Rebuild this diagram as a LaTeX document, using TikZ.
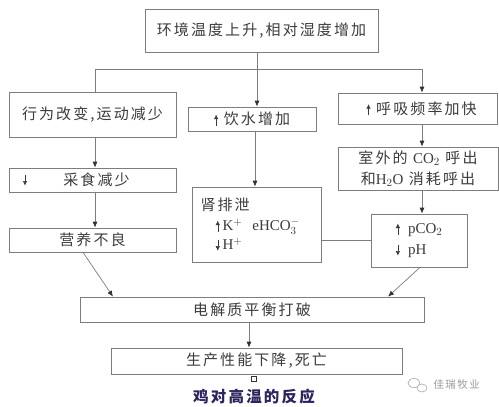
\documentclass[tikz,border=0pt]{standalone}
\usepackage{fontspec}
\setmainfont{Liberation Serif}
\newfontfamily\cjk[LetterSpace=14]{Noto Sans CJK SC}
\usetikzlibrary{arrows.meta,shadows}

\definecolor{linegray}{RGB}{125,125,125}
\definecolor{textgray}{RGB}{60,60,60}
\definecolor{titleblue}{RGB}{45,35,95}

\newcommand\uparr{\tikz[baseline=0pt]\draw[line width=0.5pt,-{Latex[length=4.5pt,width=4.5pt]}] (0pt,-1pt) -- (0pt,10pt);}
\newcommand\dnarr{\tikz[baseline=0pt]\draw[line width=0.5pt,-{Latex[length=4.5pt,width=4.5pt]}] (0pt,10pt) -- (0pt,-1pt);}

\tikzset{
  box/.style={draw=linegray, line width=0.7pt, fill=white, text=textgray,
    drop shadow={shadow xshift=0.6pt, shadow yshift=-1.2pt, fill=black!65, opacity=1},
    font=\cjk\fontsize{15}{21}\selectfont, inner sep=0pt},
  link/.style={draw=linegray, line width=0.7pt},
  flow/.style={link, -{Latex[length=6pt,width=5pt,color=black!80]}}
}

\begin{document}
\begin{tikzpicture}[x=1pt,y=-1pt]
  \useasboundingbox (0,0) rectangle (499,407);

  % boxes
  \node[box, minimum width=233pt, minimum height=43pt] (top) at (261.5,30.5) {环境温度上升,相对湿度增加};
  \node[box, minimum width=167pt, minimum height=45pt] (behav) at (92.5,114.5) {行为改变,运动减少};
  \node[box, minimum width=128pt, minimum height=24pt] (water) at (252,119) {\uparr\ 饮水增加};
  \node[box, minimum width=159pt, minimum height=31pt] (breath) at (417.5,108.5) {\hspace{8pt}\uparr\ 呼吸频率加快};
  \node[box, minimum width=167pt, minimum height=24pt] (feed) at (92.5,180) {\hspace{8pt}采食减少};
  \node[text=textgray] (feedarr) at (25,180) {\dnarr};
  \node[box, minimum width=167pt, minimum height=24pt] (nutri) at (92.5,240) {营养不良};
  \node[box, minimum width=129pt, minimum height=75pt, text width=112pt, align=left] (kidney) at (256.5,224.5)
    {肾排泄\\[-1pt]
     \hspace{15pt}\uparr\,{\rmfamily K$^+$\hspace{10pt}eHCO$_3^-$}\\[-2pt]
     \hspace{15pt}\dnarr\,{\rmfamily H$^+$}};
  \node[box, minimum width=160pt, minimum height=43pt, align=center] (co2out) at (418,168.5)
    {室外的 {\rmfamily CO$_2$} 呼出\\和{\rmfamily H$_2$O} 消耗呼出};
  \node[box, minimum width=96pt, minimum height=53pt, align=left] (pco2) at (419,240.5)
    {\uparr\hspace{8pt}{\rmfamily pCO$_2$}\\\dnarr\hspace{8pt}{\rmfamily pH}};
  \node[box, minimum width=344pt, minimum height=25pt] (elec) at (252,309.5) {电解质平衡打破};
  \node[box, minimum width=291pt, minimum height=26pt] (prod) at (256.5,361) {生产性能下降,死亡};

  \node[draw=black!80, line width=0.6pt, minimum size=5pt, inner sep=0pt] (sq) at (254,379) {};
  \node[text=titleblue, font=\cjk\bfseries\fontsize{15.5}{18}\selectfont] (title) at (254,397) {鸡对高温的反应};

  % connectors
  \coordinate (busL) at (95,69);
  \coordinate (busM) at (257,69);
  \coordinate (busR) at (422,69);
  \draw[link] (busL) -- (busR);
  \draw[link] (busL) -- (busL |- behav.north);
  \draw[flow] (busR) -- (busR |- breath.north);
  \draw[flow] (top.south -| busM) -- (busM |- water.north);

  \draw[flow] (busL |- behav.south) -- (busL |- feed.north);
  \draw[flow] (busL |- feed.south) -- (busL |- nutri.north);
  \draw[flow] ([xshift=-2pt]busM |- water.south) -- ([xshift=-2pt]busM |- kidney.north);
  \draw[flow] (busR |- breath.south) -- (busR |- co2out.north);
  \draw[flow] (busR |- co2out.south) -- (busR |- pco2.north);
  \draw[link] (pco2.west -| kidney.east) -- (pco2.west);

  \draw[flow] ([xshift=-9.5pt]nutri.south) -- ([xshift=-139pt]elec.north);
  \draw[flow] ([xshift=1pt]pco2.south) -- ([xshift=136pt]elec.north);
  \draw[flow] ([xshift=-3pt]elec.south) -- ([xshift=-3pt]elec.south |- prod.north);

  % watermark
  \begin{scope}[draw=black!35, line width=0.6pt]
    \draw (414,383) ellipse (6pt and 4.5pt);
    \draw[fill=white] (422,388) ellipse (5pt and 4pt);
  \end{scope}
  \node[text=black!40, font=\cjk\fontsize{10.5}{12}\selectfont, anchor=west] (wm) at (430,385) {佳瑞牧业};
\end{tikzpicture}
\end{document}
